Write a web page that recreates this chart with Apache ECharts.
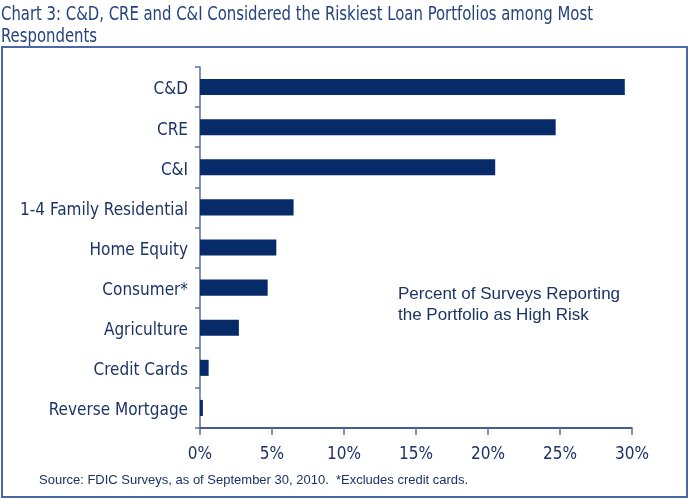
<!DOCTYPE html>
<html>
<head>
<meta charset="utf-8">
<script src="https://cdn.jsdelivr.net/npm/echarts@6/dist/echarts.min.js"></script>
<style>
  html, body { margin: 0; padding: 0; background: #fff; }
  #chart { width: 689px; height: 499px; }
</style>
</head>
<body>
<div id="chart"></div>
<script>
// portfolio categories, top to bottom
const categories = [
  'C&D', 'CRE', 'C&I', '1-4 Family Residential', 'Home Equity',
  'Consumer*', 'Agriculture', 'Credit Cards', 'Reverse Mortgage'
];
// percent of surveys reporting the portfolio as high risk
const highRiskPct = [29.5, 24.7, 20.5, 6.5, 5.3, 4.7, 2.7, 0.6, 0.2];
const xTicks = [0, 5, 10, 15, 20, 25, 30];

const NAVY = '#072a68';
const TEXT = '#1b3366';
const narrow = '"DejaVu Sans Condensed", sans-serif';
const regular = '"Liberation Sans", Arial, sans-serif';

const chart = echarts.init(document.getElementById('chart'), null, { renderer: 'canvas' });

chart.setOption({
  animation: false,
  grid: { left: 200, right: 57, top: 67, bottom: 71 },
  xAxis: {
    type: 'value',
    min: xTicks[0],
    max: xTicks[xTicks.length - 1],
    interval: 5,
    axisLine: { show: true, lineStyle: { color: NAVY, width: 1.5 } },
    axisTick: { show: true, length: 7, lineStyle: { color: '#5a6f99', width: 1.5 } },
    splitLine: { show: false },
    axisLabel: {
      formatter: '{value}%',
      color: TEXT,
      fontFamily: narrow,
      fontSize: 17,
      margin: 18
    }
  },
  yAxis: {
    type: 'category',
    data: categories,
    inverse: true,
    axisLine: { show: true, lineStyle: { color: '#5a6f99', width: 1.5 } },
    axisTick: { show: true, length: 5, lineStyle: { color: '#5a6f99', width: 1.5 } },
    axisLabel: {
      margin: 12,
      formatter: v => '{a|' + v + '}',
      rich: {
        a: {
          color: TEXT,
          fontFamily: narrow,
          fontSize: 17,
          padding: [6, 0, 0, 0]
        }
      }
    }
  },
  series: [{
    type: 'bar',
    data: highRiskPct,
    barCategoryGap: '60%',
    itemStyle: { color: NAVY },
    label: { show: false }
  }],
  graphic: [
    {
      type: 'rect',
      shape: { x: 2, y: 47, width: 685, height: 450 },
      style: { fill: 'none', stroke: '#4a68a3', lineWidth: 2 },
      silent: true
    },
    {
      type: 'text',
      x: 1, y: 4,
      scaleX: 0.87,
      style: {
        text: 'Chart 3: C&D, CRE and C&I Considered the Riskiest Loan Portfolios among Most\nRespondents',
        fill: '#25447e',
        font: '19px ' + narrow,
        lineHeight: 22
      }
    },
    {
      type: 'text',
      left: 398, top: 284,
      style: {
        text: 'Percent of Surveys Reporting\nthe Portfolio as High Risk',
        fill: TEXT,
        font: '17px ' + regular,
        lineHeight: 21
      }
    },
    {
      type: 'text',
      left: 39, top: 474,
      style: {
        text: 'Source: FDIC Surveys, as of September 30, 2010.  *Excludes credit cards.',
        fill: TEXT,
        font: '13px ' + regular
      }
    }
  ]
});
</script>
</body>
</html>
